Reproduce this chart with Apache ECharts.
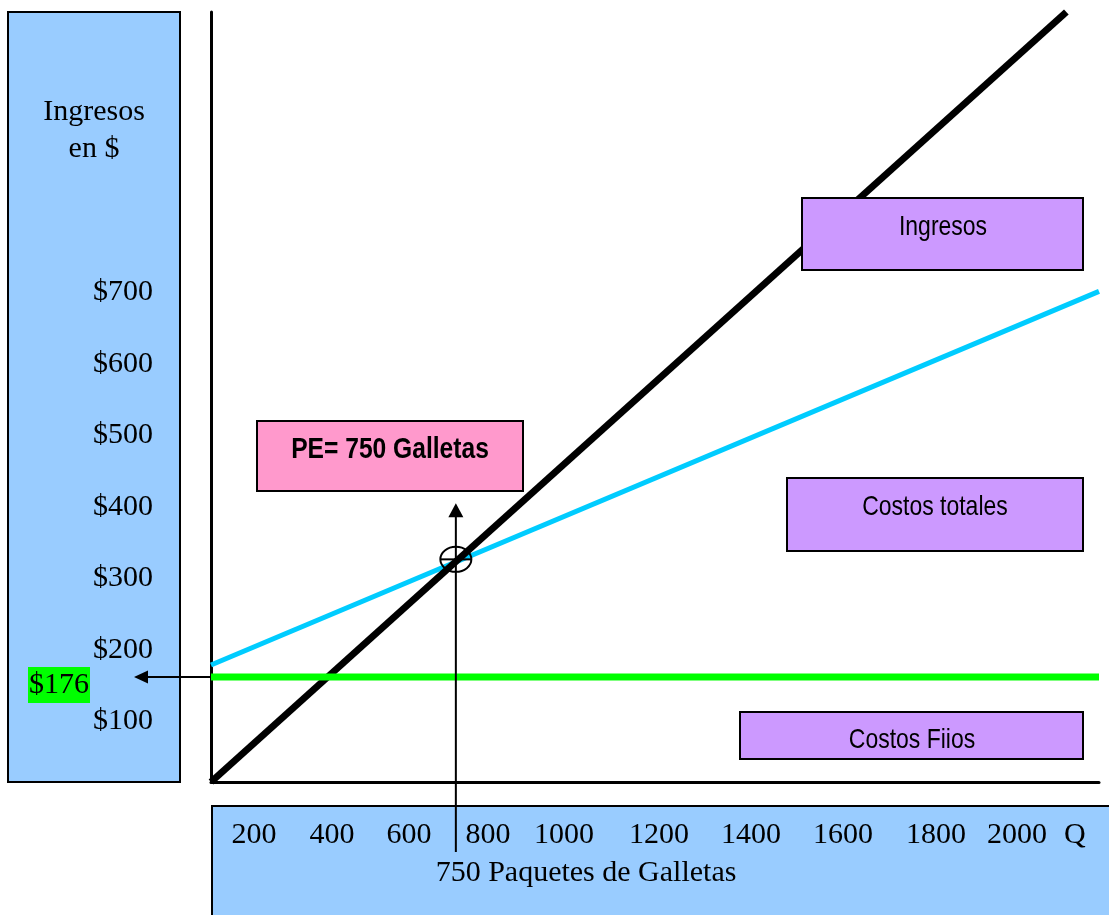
<!DOCTYPE html>
<html>
<head>
<meta charset="utf-8">
<script src="https://cdn.jsdelivr.net/npm/echarts@6/dist/echarts.min.js"></script>
<style>
  html, body { margin: 0; padding: 0; background: #ffffff; }
  #chart { width: 1109px; height: 915px; }
</style>
</head>
<body>
<div id="chart"></div>
<script>
// Break-even chart: quantity of packages (Q) on x, dollars on y.
const revenueQ = [0, 2620];
const revenueUSD = [0, 1290];
const totalCostQ = [0, 2720];
const totalCostUSD = [196, 822];
const fixedCostQ = [0, 2720];
const fixedCostUSD = [176, 176];
const breakEvenQ = 750;
const breakEvenUSD = 373;

// Dollar labels in the left panel and quantity labels in the bottom panel
const dollarTickValues = [100, 200, 300, 400, 500, 600, 700];
const quantityTickLabels = ['200', '400', '600', '800', '1000', '1200', '1400', '1600', '1800', '2000'];
const quantityAxisName = 'Q';

// Layout of the bottom-panel labels (centre x of each text)
const quantityLabelX = [254, 332, 409, 488, 564, 659, 751, 843, 936, 1017];

const SERIF = '"Liberation Serif", "Times New Roman", serif';
const SANS = '"Liberation Sans", Arial, sans-serif';

const pairs = (xs, ys) => xs.map((x, i) => [x, ys[i]]);

const chart = echarts.init(document.getElementById('chart'), null, { renderer: 'canvas' });

// Blue panels, coloured caption boxes and panel texts
const graphics = [
  { type: 'rect', z: 0, shape: { x: 8, y: 12, width: 172, height: 770 },
    style: { fill: '#99CCFF', stroke: '#000', lineWidth: 2 } },
  { type: 'rect', z: 0, shape: { x: 212, y: 806, width: 910, height: 120 },
    style: { fill: '#99CCFF', stroke: '#000', lineWidth: 2 } },
  { type: 'text', z: 1, x: 94, y: 131,
    style: { text: 'Ingresos\nen $', font: '30px ' + SERIF, lineHeight: 37,
             fill: '#000', align: 'center', verticalAlign: 'middle' } },
  { type: 'text', z: 1, x: 586, y: 873,
    style: { text: breakEvenQ + ' Paquetes de Galletas', font: '30px ' + SERIF,
             fill: '#000', align: 'center', verticalAlign: 'middle' } },
  { type: 'text', z: 1, x: 1064, y: 835,
    style: { text: quantityAxisName, font: '30px ' + SERIF,
             fill: '#000', align: 'left', verticalAlign: 'middle' } }
];

quantityTickLabels.forEach((t, i) => {
  graphics.push({ type: 'text', z: 1, x: quantityLabelX[i], y: 835,
    style: { text: t, font: '30px ' + SERIF, fill: '#000', align: 'center', verticalAlign: 'middle' } });
});

// Caption boxes: [x, y, w, h, fill, text, textX, textY, bold]
const boxes = [
  [802, 198, 281, 72, '#CC99FF', 'Ingresos', 943, 227, false],
  [787, 478, 296, 73, '#CC99FF', 'Costos totales', 935, 507, false],
  [740, 712, 343, 47, '#CC99FF', 'Costos Fiios', 912, 740, false],
  [257, 421, 266, 70, '#FF99CC', 'PE= ' + breakEvenQ + ' Galletas', 390, 450, true]
];
boxes.forEach(b => {
  graphics.push({ type: 'rect', z: 20, shape: { x: b[0], y: b[1], width: b[2], height: b[3] },
    style: { fill: b[4], stroke: '#000', lineWidth: 2 } });
  graphics.push({ type: 'text', z: 21, x: b[6], y: b[7], scaleX: 0.82,
    style: { text: b[5], font: (b[8] ? 'bold 30px ' : '28px ') + SANS,
             fill: '#000', align: 'center', verticalAlign: 'middle' } });
});

const hiddenAxisParts = {
  axisTick: { show: false },
  splitLine: { show: false }
};

const option = {
  animation: false,
  backgroundColor: '#ffffff',
  grid: { left: 211, right: 10, top: 12, bottom: 133, containLabel: false },
  xAxis: [{
    type: 'value', min: 0, max: 2720,
    axisLine: { show: true, lineStyle: { color: '#000', width: 3 } },
    axisLabel: { show: false },
    ...hiddenAxisParts
  }],
  yAxis: [{
    type: 'value', min: 0, max: 1290,
    axisLine: { show: true, lineStyle: { color: '#000', width: 3 } },
    axisLabel: { show: false },
    ...hiddenAxisParts
  }, {
    // dollar captions printed in the left panel
    type: 'value', min: 15, max: 1092, position: 'left',
    axisLine: { show: false },
    axisLabel: {
      show: true, customValues: dollarTickValues, margin: 58,
      formatter: v => '$' + v,
      fontFamily: SERIF, fontSize: 30, color: '#000'
    },
    ...hiddenAxisParts
  }],
  graphic: graphics,
  series: [
    { name: 'Costos totales', type: 'line', data: pairs(totalCostQ, totalCostUSD),
      symbol: 'none', silent: true, clip: false, z: 2,
      lineStyle: { color: '#00CCFF', width: 5 } },
    { name: 'Ingresos', type: 'line', data: pairs(revenueQ, revenueUSD),
      symbol: 'none', silent: true, clip: false, z: 3,
      lineStyle: { color: '#000000', width: 7 } },
    { name: 'Costos Fijos', type: 'line', data: pairs(fixedCostQ, fixedCostUSD),
      symbol: 'none', silent: true, clip: false, z: 4,
      lineStyle: { color: '#00FF00', width: 7 } },
    // break-even marker with the arrow pointing up to its caption
    { type: 'custom', coordinateSystem: 'cartesian2d', clip: false, silent: true, z: 10,
      data: [[breakEvenQ, breakEvenUSD]],
      renderItem(params, api) {
        const p = api.coord([api.value(0), api.value(1)]);
        const base = api.coord([api.value(0), 0]);
        const tipY = p[1] - 56;
        return { type: 'group', children: [
          { type: 'ellipse', shape: { cx: p[0], cy: p[1], rx: 15.5, ry: 12.5 },
            style: { fill: 'none', stroke: '#000', lineWidth: 2 } },
          { type: 'line', shape: { x1: p[0] - 15.5, y1: p[1], x2: p[0] + 15.5, y2: p[1] },
            style: { stroke: '#000', lineWidth: 2 } },
          { type: 'line', shape: { x1: p[0], y1: base[1] + 70, x2: p[0], y2: tipY + 12 },
            style: { stroke: '#000', lineWidth: 2 } },
          { type: 'polygon', shape: { points: [[p[0], tipY], [p[0] - 7.5, tipY + 14], [p[0] + 7.5, tipY + 14]] },
            style: { fill: '#000' } }
        ] };
      } },
    // fixed-cost pointer to its dollar value
    { type: 'custom', coordinateSystem: 'cartesian2d', clip: false, silent: true, z: 10,
      data: [[fixedCostQ[0], fixedCostUSD[0]]],
      renderItem(params, api) {
        const p = api.coord([api.value(0), api.value(1)]);
        const tipX = p[0] - 77;
        return { type: 'group', children: [
          { type: 'line', shape: { x1: p[0], y1: p[1], x2: tipX + 12, y2: p[1] },
            style: { stroke: '#000', lineWidth: 2 } },
          { type: 'polygon', shape: { points: [[tipX, p[1]], [tipX + 14, p[1] - 6.5], [tipX + 14, p[1] + 6.5]] },
            style: { fill: '#000' } },
          { type: 'text', x: p[0] - 183, y: p[1] + 8,
            style: { text: '$' + api.value(1), font: '30px ' + SERIF, fill: '#000',
                     align: 'left', verticalAlign: 'middle',
                     backgroundColor: '#00FF00', padding: [3, 1, 3, 1] } }
        ] };
      } }
  ]
};

chart.setOption(option);
</script>
</body>
</html>
